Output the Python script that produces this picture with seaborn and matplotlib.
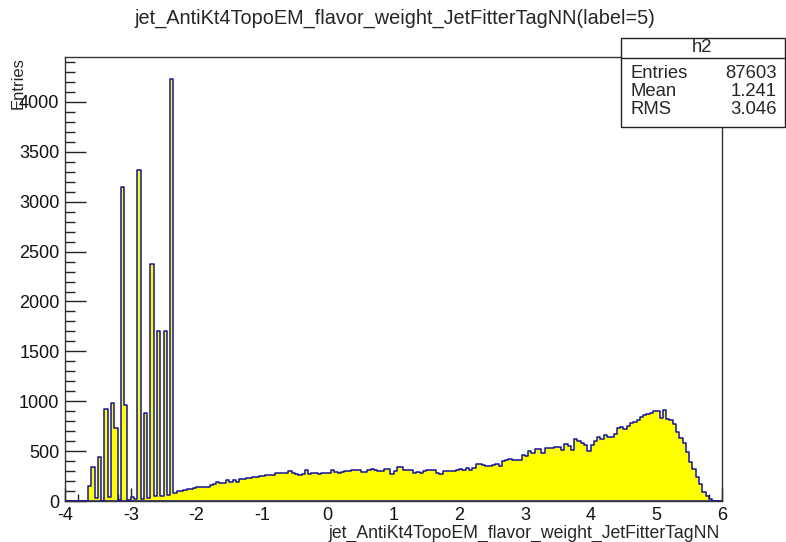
import numpy as np
import pandas as pd
import matplotlib
matplotlib.use("Agg")
import matplotlib.pyplot as plt
import seaborn as sns
from matplotlib.ticker import MultipleLocator
from matplotlib.patches import Rectangle
from matplotlib.lines import Line2D

# histogram binning: 200 bins of 0.05 from -4 to 6
x_min, x_max, n_bins = -4.0, 6.0, 200
bin_width = (x_max - x_min) / n_bins
first_bin = -3.65  # left edge of the first filled bin

# b-tag spike region, -3.65 .. -2.40
spike_counts = [150, 340, 30, 440, 0, 920, 40, 980, 730, 10,
                3150, 960, 15, 40, 25, 3315, 20, 880, 30, 2375,
                50, 1700, 50, 1700, 60, 4235]

# continuum, -2.35 .. 5.80
cont_counts = [80, 100, 105, 115, 120, 125, 135, 140, 140, 140,
               145, 160, 170, 190, 185, 185, 215, 195, 215, 195,
               225, 225, 235, 235, 245, 240, 250, 250, 260, 260,
               260, 285, 285, 285, 280, 305, 285, 275, 260, 275,
               315, 275, 280, 280, 275, 280, 285, 285, 315, 295,
               285, 295, 305, 305, 310, 315, 310, 290, 290, 310,
               325, 315, 305, 305, 320, 320, 275, 305, 345, 345,
               315, 315, 310, 285, 290, 285, 305, 310, 310, 310,
               285, 275, 305, 305, 305, 305, 315, 325, 315, 330,
               315, 330, 375, 370, 365, 350, 355, 365, 375, 355,
               400, 410, 420, 410, 410, 410, 460, 450, 505, 480,
               520, 525, 485, 530, 530, 530, 545, 540, 510, 570,
               555, 515, 620, 600, 585, 560, 505, 560, 600, 645,
               620, 660, 640, 645, 670, 735, 745, 725, 755, 780,
               795, 815, 840, 860, 875, 880, 900, 905, 830, 910,
               825, 815, 770, 695, 630, 580, 490, 390, 320, 240,
               175, 95, 55, 25]

stats_rows = [("Entries", "87603"), ("Mean", "1.241"), ("RMS", "3.046")]
hist_name = "h2"
title = "jet_AntiKt4TopoEM_flavor_weight_JetFitterTagNN(label=5)"
x_label = "jet_AntiKt4TopoEM_flavor_weight_JetFitterTagNN"

counts = np.array(spike_counts + cont_counts, dtype=float)
centers = first_bin + bin_width * (np.arange(len(counts)) + 0.5)
df = pd.DataFrame({"value": centers, "count": counts})

sns.set_style("ticks", rc={
    "xtick.direction": "in",
    "ytick.direction": "in",
    "axes.edgecolor": "#333333",
})
plt.rcParams["font.family"] = ["Liberation Sans", "DejaVu Sans"]
plt.rcParams["axes.unicode_minus"] = False

W, H = 786, 542
fig = plt.figure(figsize=(W / 100, H / 100), dpi=100)
fig.patch.set_facecolor("white")

left, right, top, bottom = 65, 722, 57, 501
ax = fig.add_axes([left / W, 1 - bottom / H, (right - left) / W, (bottom - top) / H])

sns.histplot(data=df, x="value", weights="count", bins=n_bins,
             binrange=(x_min, x_max),
             element="step", fill=True, color="#ffff00", alpha=1,
             edgecolor="#14149e", linewidth=1.1, ax=ax)

ax.set_xlim(x_min, x_max)
ax.set_ylim(0, 4451)
ax.set_xlabel("")
ax.set_ylabel("")
for s in ax.spines.values():
    s.set_linewidth(1.0)
    s.set_color("#333333")

ax.xaxis.set_major_locator(MultipleLocator(1))
ax.xaxis.set_minor_locator(MultipleLocator(0.2))
ax.yaxis.set_major_locator(MultipleLocator(500))
ax.yaxis.set_minor_locator(MultipleLocator(100))
ax.tick_params(axis="y", which="major", length=15, width=1, pad=4,
               labelsize=13, color="#222222", labelcolor="#111111")
ax.tick_params(axis="y", which="minor", length=7, width=1, color="#222222")
ax.tick_params(axis="x", which="major", length=9.5, width=1, pad=4.5,
               labelsize=13, color="#222222", labelcolor="#111111")
ax.tick_params(axis="x", which="minor", length=5, width=1, color="#222222")
ax.xaxis.set_major_formatter(plt.FuncFormatter(lambda v, p: f"{v:g}"))

fig.text(395 / W, 1 - 18 / H, title, ha="center", va="center", fontsize=14.3)
fig.text(720 / W, 1 - 537.5 / H, x_label, ha="right", va="baseline", fontsize=12.7)
fig.text(18 / W, 1 - 57 / H, "Entries", rotation=90, ha="center", va="top",
         fontsize=12)

# stats box
bx0, bx1, by0, by1, bsep = 621, 785, 38, 127, 57.5
fig.add_artist(Rectangle((bx0 / W, 1 - by1 / H), (bx1 - bx0) / W, (by1 - by0) / H,
                         transform=fig.transFigure, facecolor="white",
                         edgecolor="#222222", linewidth=1.0, zorder=5))
fig.add_artist(Line2D([bx0 / W, bx1 / W], [1 - bsep / H, 1 - bsep / H],
                      transform=fig.transFigure, color="#222222", linewidth=1.0,
                      zorder=6))
fig.text(702 / W, 1 - 48 / H, hist_name, ha="center", va="center",
         fontsize=13.3, zorder=7)
for i, (name, val) in enumerate(stats_rows):
    yy = 1 - (73 + 18.2 * i) / H
    fig.text(630 / W, yy, name, ha="left", va="center", fontsize=13.3, zorder=7)
    fig.text(777 / W, yy, val, ha="right", va="center", fontsize=13.3, zorder=7)

fig.savefig("out.png", dpi=100)
